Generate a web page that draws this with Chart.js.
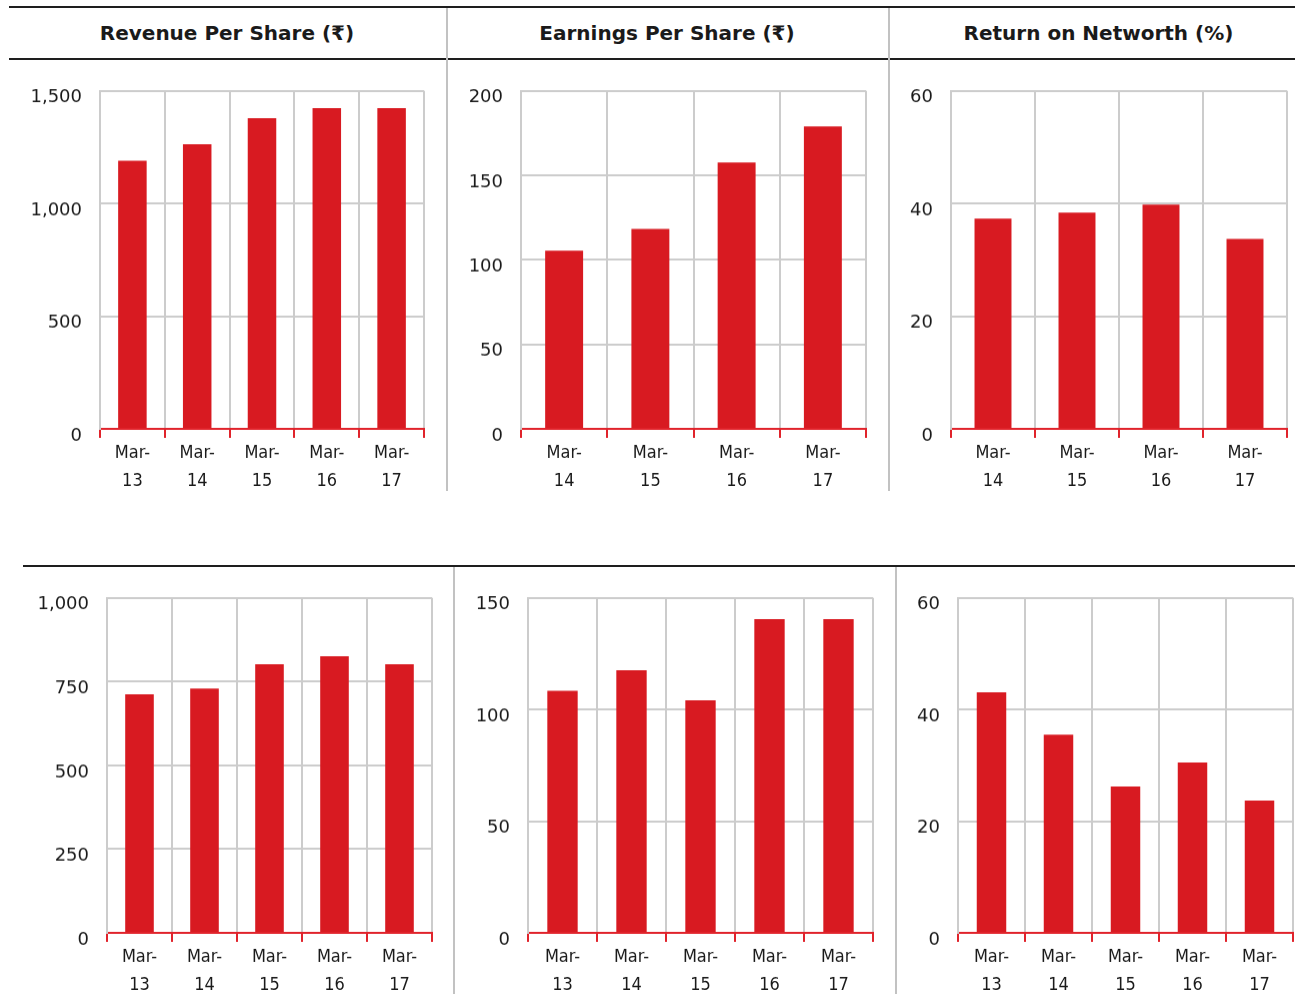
<!DOCTYPE html>
<html>
<head>
<meta charset="utf-8">
<script src="https://cdn.jsdelivr.net/npm/chart.js@4.4.0/dist/chart.umd.min.js"></script>
<style>
  html, body { margin: 0; padding: 0; background: #fff; }
  body { position: relative; width: 1295px; height: 994px; overflow: hidden; font-family: "DejaVu Sans", sans-serif; }
  .rule { position: absolute; height: 2px; background: #1e1e1e; }
  .sep { position: absolute; width: 2px; background: #c2c2c2; }
  .title { position: absolute; top: 7px; height: 52px; text-align: center;
           font: bold 20px "DejaVu Sans", sans-serif; line-height: 52px; color: #1a1a1a; white-space: nowrap; }
  canvas { position: absolute; }
</style>
</head>
<body>
<!-- header rules and column separators -->
<div class="rule" style="left:9px; top:6px; width:1286px;"></div>
<div class="rule" style="left:9px; top:58px; width:1286px;"></div>
<div class="rule" style="left:23px; top:565px; width:1272px;"></div>
<div class="sep" style="left:446px; top:8px; height:483px;"></div>
<div class="sep" style="left:888px; top:8px; height:483px;"></div>
<div class="sep" style="left:453px; top:567px; height:427px;"></div>
<div class="sep" style="left:895px; top:567px; height:427px;"></div>

<div class="title" id="t0" style="left:9px; width:436px;"></div>
<div class="title" id="t1" style="left:447px; width:440px;"></div>
<div class="title" id="t2" style="left:889px; width:419px;"></div>

<canvas id="c0"></canvas>
<canvas id="c1"></canvas>
<canvas id="c2"></canvas>
<canvas id="c3"></canvas>
<canvas id="c4"></canvas>
<canvas id="c5"></canvas>

<script>
// Column headings
const titles = ['Revenue Per Share (₹)', 'Earnings Per Share (₹)', 'Return on Networth (%)'];

// Upper row
const upperRevenueYears = ['Mar-13', 'Mar-14', 'Mar-15', 'Mar-16', 'Mar-17'];
const upperRevenuePerShare = [1190, 1263, 1379, 1423, 1423];
const upperRevenueTicks = [0, 500, 1000, 1500];

const upperEpsYears = ['Mar-14', 'Mar-15', 'Mar-16', 'Mar-17'];
const upperEarningsPerShare = [105.5, 118.3, 157.6, 178.9];
const upperEpsTicks = [0, 50, 100, 150, 200];

const upperRonwYears = ['Mar-14', 'Mar-15', 'Mar-16', 'Mar-17'];
const upperReturnOnNetworth = [37.3, 38.4, 39.8, 33.7];
const upperRonwTicks = [0, 20, 40, 60];

// Lower row
const lowerYears = ['Mar-13', 'Mar-14', 'Mar-15', 'Mar-16', 'Mar-17'];
const lowerRevenuePerShare = [712, 729, 802, 826, 802];
const lowerRevenueTicks = [0, 250, 500, 750, 1000];
const lowerEarningsPerShare = [108.4, 117.6, 104.1, 140.5, 140.5];
const lowerEpsTicks = [0, 50, 100, 150];
const lowerReturnOnNetworth = [43.1, 35.5, 26.2, 30.5, 23.7];
const lowerRonwTicks = [0, 20, 40, 60];

titles.forEach((t, i) => { document.getElementById('t' + i).textContent = t; });

// Plot-area placement of each panel on the page: [left, top, right, zero-line]
const AX_W = 90, PAD_T = 4, X_H = 72, PAD_R = 6;
const panels = [
  { id: 'c0', box: [100, 91, 424, 429],  years: upperRevenueYears, values: upperRevenuePerShare,  ticks: upperRevenueTicks },
  { id: 'c1', box: [521, 91, 866, 429],  years: upperEpsYears,     values: upperEarningsPerShare, ticks: upperEpsTicks },
  { id: 'c2', box: [951, 91, 1287, 429], years: upperRonwYears,    values: upperReturnOnNetworth, ticks: upperRonwTicks },
  { id: 'c3', box: [107, 598, 432, 933], years: lowerYears,        values: lowerRevenuePerShare,  ticks: lowerRevenueTicks },
  { id: 'c4', box: [528, 598, 873, 933], years: lowerYears,        values: lowerEarningsPerShare, ticks: lowerEpsTicks },
  { id: 'c5', box: [958, 598, 1293, 933], years: lowerYears,       values: lowerReturnOnNetworth, ticks: lowerRonwTicks }
];

const BAR_RED = '#d81a21';
const AXIS_RED = '#e0232b';
const GRID = '#cccccc';
const TEXT = '#1a1a1a';

function splitLabel(s) {
  const i = s.indexOf('-');
  return [s.slice(0, i + 1), s.slice(i + 1)];
}

function config(p) {
  return {
    type: 'bar',
    data: {
      labels: p.years.map(splitLabel),
      datasets: [{
        data: p.values,
        backgroundColor: BAR_RED,
        borderWidth: 0,
        barPercentage: 0.44,
        categoryPercentage: 1
      }]
    },
    options: {
      responsive: false,
      animation: false,
      devicePixelRatio: 1,
      layout: { padding: { top: PAD_T, right: PAD_R, left: 0, bottom: 0 } },
      plugins: { legend: { display: false }, tooltip: { enabled: false } },
      scales: {
        x: {
          offset: true,
          grid: { color: GRID, lineWidth: 2, tickColor: AXIS_RED, tickLength: 9, tickWidth: 2, offset: true },
          border: { color: AXIS_RED, width: 2 },
          ticks: {
            color: TEXT,
            font: { family: '"Liberation Sans Narrow", "DejaVu Sans Condensed", sans-serif', size: 18, lineHeight: 1.55 },
            padding: 1, maxRotation: 0, minRotation: 0, autoSkip: false
          },
          afterFit(s) { s.height = X_H; }
        },
        y: {
          min: 0,
          max: p.ticks[p.ticks.length - 1],
          afterBuildTicks(s) { s.ticks = p.ticks.map(v => ({ value: v })); },
          grid: {
            color: ctx => (ctx.tick && ctx.tick.value === 0) ? 'rgba(0,0,0,0)' : GRID,
            lineWidth: 2, drawTicks: false
          },
          border: { color: GRID, width: 2 },
          ticks: {
            color: TEXT,
            font: { family: '"DejaVu Sans", sans-serif', size: 18 },
            padding: 18, labelOffset: 7,
            callback: v => Number(v).toLocaleString('en-US')
          },
          afterFit(s) { s.width = AX_W; }
        }
      }
    }
  };
}

function sizeCanvas(cv, w, h) {
  cv.width = w; cv.height = h;
  cv.style.width = w + 'px'; cv.style.height = h + 'px';
}

panels.forEach(p => {
  const [l, t, r, b] = p.box;
  const cv = document.getElementById(p.id);
  let w = (r - l) + AX_W + PAD_R;
  let h = (b - t) + PAD_T + X_H;
  sizeCanvas(cv, w, h);
  // first pass: find how much room the axes take around the plot area
  let chart = new Chart(cv, config(p));
  const ca = chart.chartArea;
  const padL = ca.left, padT = ca.top, padR = w - ca.right, padB = h - ca.bottom;
  chart.destroy();
  // second pass: size the canvas so the plot area lands on its box
  w = (r - l) + padL + padR;
  h = (b - t) + padT + padB;
  sizeCanvas(cv, w, h);
  cv.style.left = (l - padL) + 'px';
  cv.style.top = (t - padT) + 'px';
  chart = new Chart(cv, config(p));
});
</script>
</body>
</html>
